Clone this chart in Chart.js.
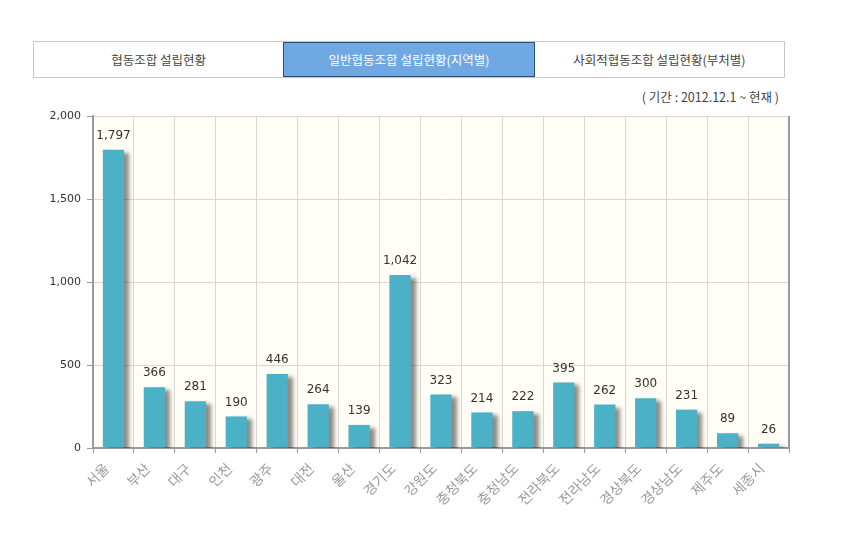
<!DOCTYPE html>
<html><head><meta charset="utf-8">
<script src="https://cdn.jsdelivr.net/npm/chart.js@4"></script>
<style>
html,body{margin:0;padding:0;background:#fff;width:843px;height:538px;overflow:hidden;font-family:"Noto Sans CJK KR","Noto Sans",sans-serif;}
#tabs{position:absolute;left:33px;top:41px;width:752px;height:37px;border:1px solid #c8c8c8;box-sizing:border-box;display:flex;}
.tab{flex:1;text-align:center;line-height:35px;font-size:12.5px;color:#444;}
.tab.on{background:#6fa8e2;border:1px solid #2c4d73;color:#fff;line-height:33px;}
#sub{position:absolute;right:64px;top:87px;font-size:12.5px;color:#444;}
#wrap{position:absolute;left:0;top:0;width:843px;height:538px;}
</style></head><body>
<div id="tabs"><div class="tab">협동조합 설립현황</div><div class="tab on">일반협동조합 설립현황(지역별)</div><div class="tab">사회적협동조합 설립현황(부처별)</div></div>
<div id="sub">( 기간 : 2012.12.1 ~ 현재 )</div>
<div id="wrap"><canvas id="c" width="843" height="538"></canvas></div>
<script>
const categories = ["서울","부산","대구","인천","광주","대전","울산","경기도","강원도","충청북도","충청남도","전라북도","전라남도","경상북도","경상남도","제주도","세종시"];
const values = [1797,366,281,190,446,264,139,1042,323,214,222,395,262,300,231,89,26];
const yTicks = [0,500,1000,1500,2000];

const bgPlugin = {
  id:'bg',
  beforeDraw(chart){
    const {ctx, chartArea:a} = chart;
    ctx.save(); ctx.fillStyle='#fffdf5'; ctx.fillRect(a.left,a.top,a.right-a.left,a.bottom-a.top); ctx.restore();
  },
  afterDraw(chart){
    const {ctx, chartArea:a} = chart;
    ctx.save(); ctx.strokeStyle='#9a9a9a'; ctx.lineWidth=2;
    ctx.beginPath(); ctx.moveTo(a.right,a.top); ctx.lineTo(a.right,a.bottom); ctx.stroke(); ctx.restore();
  }
};
const shadowPlugin = {
  id:'shadow',
  beforeDatasetsDraw(chart){
    const ctx=chart.ctx; ctx.save();
    ctx.shadowColor='rgba(0,0,0,0.45)'; ctx.shadowOffsetX=5; ctx.shadowOffsetY=3; ctx.shadowBlur=4;
  },
  afterDatasetsDraw(chart){
    const ctx=chart.ctx; ctx.restore();
    const meta=chart.getDatasetMeta(0);
    ctx.save(); ctx.font='12px "DejaVu Sans"'; ctx.fillStyle='#333'; ctx.textAlign='center'; ctx.textBaseline='bottom';
    meta.data.forEach((el,i)=>{ ctx.fillText(values[i].toLocaleString('en-US'), el.x, el.y-8); });
    ctx.restore();
  }
};
new Chart(document.getElementById('c'),{
  type:'bar',
  data:{labels:categories,datasets:[{data:values,backgroundColor:'#4bb1c6',borderWidth:0,categoryPercentage:1,barPercentage:0.52}]},
  options:{
    responsive:false,animation:false,
    layout:{padding:{left:0,top:116,right:54,bottom:0}},
    plugins:{legend:{display:false},tooltip:{enabled:false}},
    scales:{
      x:{
        grid:{color:'#d9d8d0',tickLength:5,drawTicks:true,tickColor:'#9a9a9a'},
        border:{color:'#9a9a9a',width:2},
        ticks:{color:'#999',font:{family:'"Noto Sans CJK KR"',size:14},maxRotation:45,minRotation:45,padding:7,labelOffset:-7,autoSkip:false},
        afterFit(s){s.height=90;}
      },
      y:{
        min:0,max:2000,
        afterBuildTicks(s){s.ticks=yTicks.map(v=>({value:v}));},
        grid:{color:'#d9d8d0',tickLength:6,tickColor:'#9a9a9a'},
        border:{color:'#9a9a9a',width:2},
        ticks:{color:'#333',font:{family:'"DejaVu Sans"',size:11},padding:6,callback:v=>v.toLocaleString('en-US')},
        afterFit(s){s.width=93;}
      }
    }
  },
  plugins:[bgPlugin,shadowPlugin]
});
</script></body></html>
